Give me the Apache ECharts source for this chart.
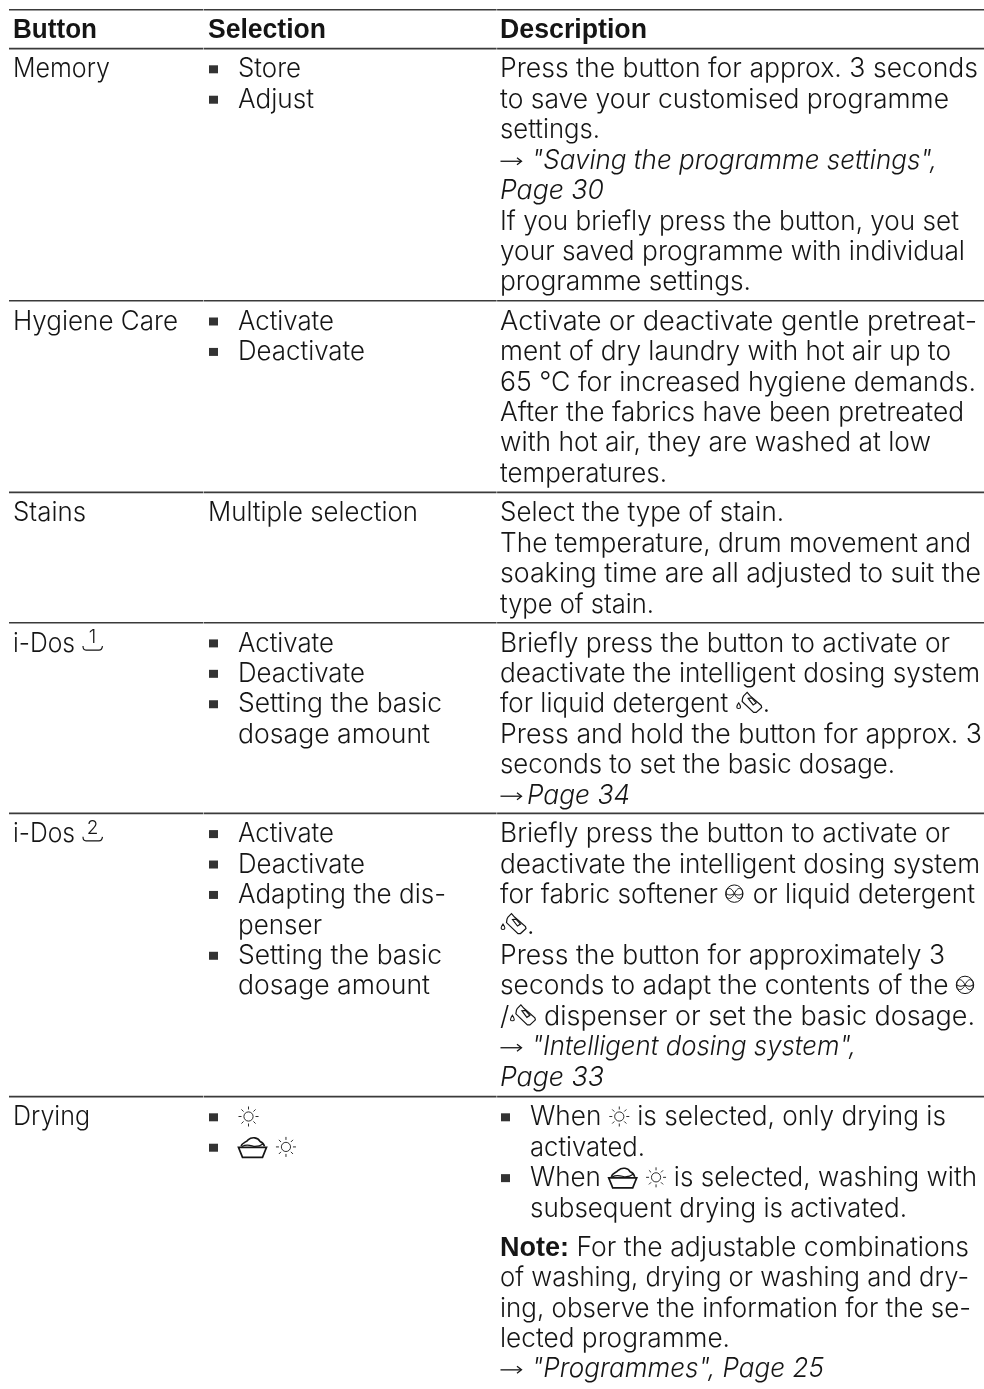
<!DOCTYPE html>
<html><head><meta charset="utf-8">
<style>html,body{margin:0;padding:0;background:#fff}#c{width:984px;height:1389px}</style>
<script src="https://cdn.jsdelivr.net/npm/echarts@6/dist/echarts.min.js"></script>
</head><body><div id="c"></div>
<script>
// ---- content ----
const headers = ['Button', 'Selection', 'Description'];
const buttons = ['Memory', 'Hygiene Care', 'Stains', 'i-Dos [tray1]', 'i-Dos [tray2]', 'Drying'];
const selections = [
  ['* Store', '* Adjust'],
  ['* Activate', '* Deactivate'],
  ['Multiple selection'],
  ['* Activate', '* Deactivate', '* Setting the basic', '  dosage amount'],
  ['* Activate', '* Deactivate', '* Adapting the dis-', '  penser', '* Setting the basic', '  dosage amount'],
  ['* [sun]', '* [tub] [sun]']
];
const descriptions = [
  ['Press the button for approx. 3 seconds', 'to save your customised programme', 'settings.',
   '[arrow] <i>"Saving the programme settings",</i>', '<i>Page 30</i>',
   'If you briefly press the button, you set', 'your saved programme with individual', 'programme settings.'],
  ['Activate or deactivate gentle pretreat-', 'ment of dry laundry with hot air up to', '65 °C for increased hygiene demands.',
   'After the fabrics have been pretreated', 'with hot air, they are washed at low', 'temperatures.'],
  ['Select the type of stain.', 'The temperature, drum movement and', 'soaking time are all adjusted to suit the', 'type of stain.'],
  ['Briefly press the button to activate or', 'deactivate the intelligent dosing system', 'for liquid detergent [bottle].',
   'Press and hold the button for approx. 3', 'seconds to set the basic dosage.', '[arrow2]<i>Page 34</i>'],
  ['Briefly press the button to activate or', 'deactivate the intelligent dosing system', 'for fabric softener [flower] or liquid detergent', '[bottle].',
   'Press the button for approximately 3', 'seconds to adapt the contents of the [flower]', '/[bottle] dispenser or set the basic dosage.',
   '[arrow] <i>"Intelligent dosing system",</i>', '<i>Page 33</i>'],
  ['* When [sun] is selected, only drying is', '  activated.', '* When [tub] [sun] is selected, washing with', '  subsequent drying is activated.',
   '^<b>Note:</b> For the adjustable combinations', 'of washing, drying or washing and dry-', 'ing, observe the information for the se-', 'lected programme.',
   '[arrow] <i>"Programmes", Page 25</i>']
];

// ---- layout ----
const ruleYs = [9.8, 48.6, 300.8, 492.4, 622.7, 813.4, 1096.6];
const ruleXs = [[9, 203.2], [203.7, 496.6], [497.1, 984]];
const colXs = [13, 208, 500];
const BULLET_INDENT = 30, LINE = 30.42, FIRST = 29.4, PARA_GAP = 8.5;
const FONT = 'Inter', BOLD_FONT = '"Liberation Sans"', SIZE = 26.5, BOLD_SIZE = 27, LIGHT = 300, INK = '#151515';
const iconW = { sun: 21, tub: 30, bottle: 27, flower: 20, tray1: 21, tray2: 21, arrow: 24.5, arrow2: 27 };
// right edge of each text line as measured in the page
const headerEnds = [97, 326, 647];
const buttonEnds = [110, 178, 86, 103, 103, 90];
const selectionEnds = [[301, 314], [334, 365], [418], [334, 365, 442, 430], [334, 365, 446, 322, 442, 430], [0, 0]];
const descriptionEnds = [
  [978, 949, 600, 937, 604, 959, 965, 751],
  [977, 951, 976, 964, 931, 667],
  [784, 971, 981, 654],
  [950, 980, 770, 982, 895, 630],
  [950, 980, 975, 0, 945, 976, 975, 856, 604],
  [946, 645, 977, 907, 969, 969, 971, 730, 824]
];

const ctx = document.createElement('canvas').getContext('2d');
function fontOf(wt, st) {
  return wt === 'bold' ? `${st} bold ${BOLD_SIZE}px ${BOLD_FONT}` : `${st} ${LIGHT} ${SIZE}px ${FONT}`;
}
function textW(t, wt, st) { ctx.font = fontOf(wt, st); return ctx.measureText(t).width; }
const textItems = [], iconItems = [], bulletItems = [], ruleItems = [];
const TOKENS = /(\[\w+\]|<\/?[bi]>)/g;
function flow(line, x, y, end) {
  // first pass: natural widths, used to fit the line to its measured right edge
  let st = 'normal', wt = 'normal', textTotal = 0, iconTotal = 0, m;
  const parts = [];
  line.split(TOKENS).forEach(tok => {
    if (!tok) return;
    if (tok === '<i>') st = 'italic'; else if (tok === '</i>') st = 'normal';
    else if (tok === '<b>') wt = 'bold'; else if (tok === '</b>') wt = 'normal';
    else if ((m = tok.match(/^\[(\w+)\]$/))) { parts.push({ icon: m[1] }); iconTotal += iconW[m[1]]; }
    else { const w = textW(tok, wt, st); parts.push({ tok, wt, st, w }); textTotal += w; }
  });
  const k = (end && textTotal > 20) ? (end - x - iconTotal) / textTotal : 1;
  parts.forEach(p => {
    if (p.icon) { iconItems.push([x, y, p.icon]); x += iconW[p.icon]; }
    else { textItems.push([x, y, p.tok, p.wt, p.st, k]); x += p.w * k; }
  });
}
function cell(lines, ends, x, y0) {
  let y = y0;
  lines.forEach((l, i) => {
    const e = ends[i];
    if (l[0] === '^') { y += PARA_GAP; l = l.slice(1); }
    if (l.startsWith('* ')) { bulletItems.push([x + 5.5, y - 8.7]); flow(l.slice(2), x + BULLET_INDENT, y, e); }
    else if (l.startsWith('  ')) flow(l.slice(2), x + BULLET_INDENT, y, e);
    else flow(l, x, y, e);
    y += LINE;
  });
}
headers.forEach((h, i) => { flow('<b>' + h + '</b>', colXs[i], 38.3, headerEnds[i]); });
buttons.forEach((b, r) => {
  const y = ruleYs[r + 1] + FIRST;
  cell([b], [buttonEnds[r]], colXs[0], y);
  cell(selections[r], selectionEnds[r], colXs[1], y);
  cell(descriptions[r], descriptionEnds[r], colXs[2], y);
});
ruleYs.forEach(y => ruleXs.forEach(s => ruleItems.push([s[0], y, s[1]])));

// ---- icons (local coordinates, origin at left end of the baseline) ----
const S = { stroke: INK, fill: null, lineWidth: 1 };
function sunIcon() {
  const out = [{ type: 'circle', shape: { cx: 10.5, cy: -9.5, r: 4.6 }, style: { ...S, lineWidth: .9 } }];
  for (let a = 0; a < 8; a++) {
    const c = Math.cos(a * Math.PI / 4), s = Math.sin(a * Math.PI / 4);
    out.push({ type: 'line', shape: { x1: 10.5 + 7 * c, y1: -9.5 + 7 * s, x2: 10.5 + 10 * c, y2: -9.5 + 10 * s }, style: { ...S, lineWidth: .9 } });
  }
  return out;
}
function pathIcon(d, lw) { return { type: 'path', shape: { pathData: d }, style: { ...S, lineWidth: lw || 1.2 } }; }
function arrowIcon() {
  return [
    { type: 'line', shape: { x1: 0.5, y1: -8, x2: 21, y2: -8 }, style: { ...S, lineWidth: 1.3 } },
    pathIcon('M17 -11.5 L21.5 -8 L17 -4.5', 1.3)
  ];
}
const icons = {
  sun: sunIcon,
  tub: () => [
    pathIcon('M0.5 -9 L4.5 1 L24.5 1 L28.5 -9 Z', 1.7),
    pathIcon('M3 -10 C4 -14 8 -14 10 -16.5 C14 -20 20 -19 22 -15 C25 -14 26 -12 26.5 -10', 1.6),
    pathIcon('M4 -10 C10 -13 14 -10 17 -10 C20 -10 23 -11 25 -12.5', 1.2)
  ],
  bottle: () => [
    pathIcon('M8 -17 L11.5 -20.5 L14.5 -17 L25.5 -7.5 L26 -5.5 L20.5 -.5 L18 -.5 L6.5 -11.5 L7 -15 Z', 1.2),
    pathIcon('M12.5 -14.5 L16 -15 L20.5 -10 L17.5 -8 Z', 1.2),
    pathIcon('M3 -10 C.5 -6.5 .5 -4.5 3 -4.5 C5.5 -4.5 5.5 -6.5 3 -10 Z', 1.1)
  ],
  flower: () => [
    { type: 'circle', shape: { cx: 9, cy: -10, r: 8.7 }, style: { ...S } },
    pathIcon('M9 -10 C5 -19 0 -14.5 .9 -10 C4 -8 6 -8.5 9 -10 C13 -19 18 -14.5 17.1 -10 C14 -8 12 -8.5 9 -10 C5 -1.5 0 -6 .9 -10 M9 -10 C13 -1.5 18 -6 17.1 -10', 1)
  ],
  tray1: () => trayIcon('1'),
  tray2: () => trayIcon('2'),
  arrow: arrowIcon,
  arrow2: arrowIcon
};
function trayIcon(n) {
  return [
    pathIcon('M1 -6 C1 -3 2 -2 4 -2 L17 -2 C19 -2 20 -3 20.5 -6', 1.2),
    { type: 'text', x: 10.5, y: -5, style: { text: n, fontFamily: FONT, fontWeight: LIGHT, fontSize: 19, fill: INK, align: 'center', verticalAlign: 'bottom' } }
  ];
}

// ---- chart ----
const chart = echarts.init(document.getElementById('c'), null, { renderer: 'canvas' });
chart.setOption({
  animation: false, backgroundColor: '#fff',
  grid: { left: 0, right: 0, top: 0, bottom: 0 },
  xAxis: { type: 'value', min: 0, max: 984, show: false },
  yAxis: { type: 'value', min: 0, max: 1389, inverse: true, show: false },
  tooltip: { show: false },
  series: [
    { type: 'custom', silent: true, clip: false, data: ruleItems, renderItem: (p, api) => {
        const a = api.coord([api.value(0), api.value(1)]), b = api.coord([api.value(2), api.value(1)]);
        return { type: 'line', shape: { x1: a[0], y1: a[1], x2: b[0], y2: b[1] }, style: { stroke: '#3a3a3a', lineWidth: 1.6 } };
      } },
    { type: 'scatter', silent: true, symbol: 'rect', symbolSize: [9, 8], itemStyle: { color: '#000' }, data: bulletItems },
    { type: 'custom', silent: true, clip: false, data: textItems.map(t => ({ value: [t[0], t[1]] })),
      renderItem: (p, api) => {
        const t = textItems[p.dataIndex], c = api.coord([t[0], t[1]]);
        const bold = t[3] === 'bold', size = bold ? BOLD_SIZE : SIZE;
        return { type: 'text', x: c[0], y: c[1] - (bold ? 0.28 : 0.32) * size, scaleX: t[5], style: {
          text: t[2], fontFamily: bold ? BOLD_FONT : FONT, fontSize: size, fontWeight: bold ? 'bold' : LIGHT, fontStyle: t[4], fill: INK, align: 'left', verticalAlign: 'middle' } };
      } },
    { type: 'custom', silent: true, clip: false, data: iconItems.map(t => ({ value: [t[0], t[1]] })),
      renderItem: (p, api) => {
        const t = iconItems[p.dataIndex], c = api.coord([t[0], t[1]]);
        return { type: 'group', x: c[0], y: c[1], children: icons[t[2]]() };
      } }
  ]
});
</script></body></html>
